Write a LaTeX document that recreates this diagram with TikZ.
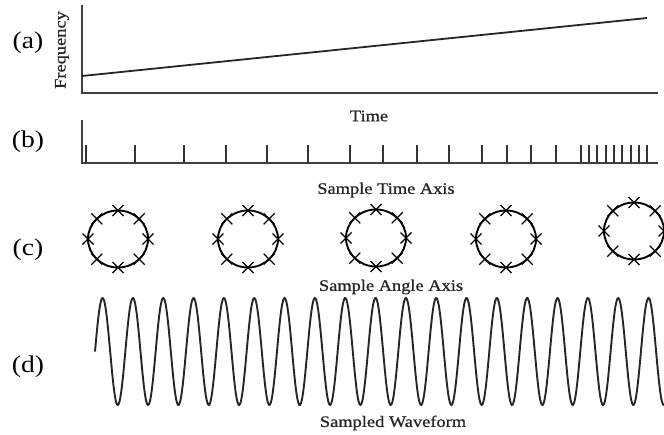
\documentclass[tikz,border=0pt]{standalone}
\usepackage{fontspec}
\usepackage{tikz}
\usetikzlibrary{positioning, calc}
\newfontfamily\capfont{Liberation Serif}[FakeStretch=1.15, FakeBold=0.8]
\newfontfamily\tagfont{Liberation Serif}[FakeStretch=1.15]
\tikzstyle{tag} = [font=\tagfont\fontsize{24}{24}\selectfont, inner sep=0pt]
\tikzstyle{caption} = [font=\capfont\fontsize{16}{16}\selectfont, inner sep=0pt, text=black!85]
\tikzstyle{axis} = [line width=2pt, draw=black!75]
\tikzstyle{tickmark} = [line width=1.7pt, draw=black!80]
\tikzstyle{ring} = [line width=1.9pt]
\tikzstyle{cross} = [line width=1.2pt]
\tikzstyle{wave} = [line width=1.9pt, draw=black!85]

\begin{document}
\begin{tikzpicture}[x=1pt, y=-1pt]
    \useasboundingbox (0,0) rectangle (664,434);
    % panel labels
    \node (taga) [tag] at (28,43) {(a)};
    \node (tagb) [tag] at (28,142) {(b)};
    \node (tagc) [tag] at (28,250) {(c)};
    \node (tagd) [tag] at (28,367) {(d)};

    % (a) frequency against time
    \draw [axis] (82,5) -- (82,93) -- (658,93);
    \draw [line width=1.8pt, draw=black!85] (82,76) -- (647,18);
    \node (freq) [caption, rotate=90] at (62,50) {Frequency};
    \node (time) [caption] at (369,116) {Time};

    % (b) sample times
    \draw [axis] (82,120) -- (82,163) -- (658,163);
    \foreach \t in {86,135,184,226,267,308,350,383,417,449,482,507,531,556,581,589,597,606,614,622,631,639,647}
        \draw [tickmark] (\t,145) -- (\t,163);
    \node (stime) [caption] at (386,190) {Sample Time Axis};

    % (c) sample angles
    \foreach \cx/\cy in {118/239, 248/239, 376/238, 506/239, 634/231} {
        \draw [ring] (\cx,\cy) ellipse [x radius=30pt, y radius=28.5pt];
        \foreach \a in {0,45,...,315}
            \draw [cross] ($(\cx,\cy)+({30*cos(\a)},{28.5*sin(\a)})$) ++(-5.5,-5.5) -- ++(11,11) ++(0,-11) -- ++(-11,11);
    }
    \node (sangle) [caption] at (391,287) {Sample Angle Axis};

    % (d) waveform, period about 30.33
    \draw [wave] plot[domain=95:664, samples=700, smooth] (\x, {351.5-53.5*sin(11.8695*(\x-95))});
    \node (swave) [caption] at (393,423) {Sampled Waveform};
\end{tikzpicture}
\end{document}
